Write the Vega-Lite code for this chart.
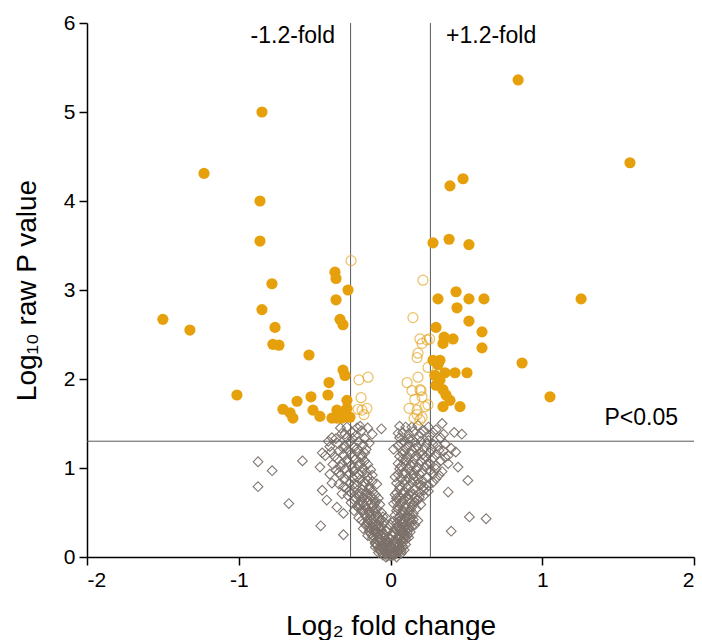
{
  "$schema": "https://vega.github.io/schema/vega-lite/v6.json",
  "width": 607,
  "height": 534,
  "autosize": "none",
  "padding": {"left": 87, "top": 23, "right": 8, "bottom": 83},
  "background": "white",
  "config": {
    "view": {"stroke": null},
    "axis": {
      "grid": false,
      "domainColor": "#000000",
      "domainWidth": 1.5,
      "tickColor": "#000000",
      "tickWidth": 1.5,
      "tickSize": 8,
      "labelFont": "Liberation Sans",
      "labelFontSize": 21,
      "labelColor": "#000000",
      "labelPadding": 4,
      "titleFont": "Liberation Sans",
      "titleFontSize": 28,
      "titleFontWeight": "normal",
      "titleColor": "#000000"
    }
  },
  "data": {
    "values": [
      {"x": -0.873, "y": 1.07, "g": "n"}, {"x": -0.78, "y": 0.97, "g": "n"}, {"x": -0.873, "y": 0.79, "g": "n"}, {"x": -0.58, "y": 1.08, "g": "n"},
      {"x": -0.67, "y": 0.6, "g": "n"}, {"x": -0.46, "y": 0.35, "g": "n"}, {"x": -0.31, "y": 0.25, "g": "n"}, {"x": -0.06, "y": 1.44, "g": "n"},
      {"x": 0.47, "y": 1.38, "g": "n"}, {"x": 0.51, "y": 0.86, "g": "n"}, {"x": 0.52, "y": 0.45, "g": "n"}, {"x": 0.63, "y": 0.43, "g": "n"},
      {"x": 0.40, "y": 0.29, "g": "n"}, {"x": 0.38, "y": 0.73, "g": "n"}, {"x": 0.445, "y": 1.01, "g": "n"}, {"x": -0.45, "y": 1.17, "g": "n"},
      {"x": -0.465, "y": 1.01, "g": "n"}, {"x": -0.45, "y": 0.75, "g": "n"}, {"x": -0.42, "y": 0.64, "g": "n"}, {"x": -0.386, "y": 0.83, "g": "n"},
      {"x": -0.353, "y": 0.56, "g": "n"}, {"x": -0.31, "y": 0.49, "g": "n"}, {"x": -0.386, "y": 1.34, "g": "n"}, {"x": -0.2, "y": 1.47, "g": "n"},
      {"x": -0.05, "y": 0.02, "g": "n"}, {"x": 0.0, "y": 0.01, "g": "n"}, {"x": 0.03, "y": 0.03, "g": "n"}, {"x": -0.02, "y": 0.05, "g": "n"},
      {"x": 0.05, "y": 0.06, "g": "n"}, {"x": -0.07, "y": 0.08, "g": "n"}, {"x": 0.01, "y": 0.09, "g": "n"}, {"x": 0.06, "y": 0.1, "g": "n"},
      {"x": -0.04, "y": 0.11, "g": "n"}, {"x": 0.08, "y": 0.12, "g": "n"}, {"x": -0.09, "y": 0.13, "g": "n"}, {"x": 0.02, "y": 0.14, "g": "n"},
      {"x": -0.01, "y": 0.03, "g": "n"}, {"x": 0.04, "y": 0.0, "g": "n"}, {"x": -0.03, "y": 0.0, "g": "n"}, {"x": 0.07, "y": 0.04, "g": "n"},
      {"x": -0.06, "y": 0.05, "g": "n"}, {"x": 0.0, "y": 0.07, "g": "n"}, {"x": -0.08, "y": 0.1, "g": "n"}, {"x": 0.09, "y": 0.08, "g": "n"},
      {"x": 0.03, "y": 0.12, "g": "n"}, {"x": -0.05, "y": 0.14, "g": "n"}, {"x": 0.05, "y": 0.15, "g": "n"}, {"x": -0.02, "y": 0.12, "g": "n"},
      {"x": 0.01, "y": 0.05, "g": "n"},
      {"x": -0.1, "y": 0.16, "g": "n"}, {"x": -0.06, "y": 0.18, "g": "n"}, {"x": -0.02, "y": 0.17, "g": "n"}, {"x": 0.03, "y": 0.19, "g": "n"},
      {"x": 0.07, "y": 0.18, "g": "n"}, {"x": 0.1, "y": 0.2, "g": "n"}, {"x": -0.12, "y": 0.21, "g": "n"}, {"x": -0.08, "y": 0.23, "g": "n"},
      {"x": -0.04, "y": 0.22, "g": "n"}, {"x": 0.01, "y": 0.24, "g": "n"}, {"x": 0.05, "y": 0.23, "g": "n"}, {"x": 0.09, "y": 0.25, "g": "n"},
      {"x": -0.13, "y": 0.26, "g": "n"}, {"x": -0.09, "y": 0.28, "g": "n"}, {"x": -0.05, "y": 0.27, "g": "n"}, {"x": 0.02, "y": 0.28, "g": "n"},
      {"x": 0.06, "y": 0.29, "g": "n"}, {"x": 0.11, "y": 0.27, "g": "n"}, {"x": -0.11, "y": 0.3, "g": "n"}, {"x": -0.07, "y": 0.19, "g": "n"},
      {"x": 0.12, "y": 0.22, "g": "n"}, {"x": 0.0, "y": 0.2, "g": "n"}, {"x": -0.03, "y": 0.29, "g": "n"}, {"x": 0.08, "y": 0.3, "g": "n"},
      {"x": -0.15, "y": 0.24, "g": "n"},
      {"x": -0.04, "y": 0.16, "g": "n"}, {"x": 0.04, "y": 0.17, "g": "n"}, {"x": -0.01, "y": 0.21, "g": "n"}, {"x": 0.06, "y": 0.21, "g": "n"},
      {"x": -0.06, "y": 0.25, "g": "n"}, {"x": 0.03, "y": 0.26, "g": "n"}, {"x": -0.1, "y": 0.27, "g": "n"}, {"x": 0.1, "y": 0.3, "g": "n"},
      {"x": -0.02, "y": 0.32, "g": "n"}, {"x": 0.0, "y": 0.36, "g": "n"}, {"x": -0.08, "y": 0.33, "g": "n"}, {"x": 0.05, "y": 0.35, "g": "n"},
      {"x": 0.1, "y": 0.36, "g": "n"}, {"x": -0.13, "y": 0.4, "g": "n"}, {"x": 0.02, "y": 0.4, "g": "n"}, {"x": 0.14, "y": 0.39, "g": "n"},
      {"x": -0.03, "y": 0.44, "g": "n"},
      {"x": -0.18, "y": 0.32, "g": "n"}, {"x": -0.14, "y": 0.33, "g": "n"}, {"x": -0.1, "y": 0.31, "g": "n"}, {"x": -0.06, "y": 0.34, "g": "n"},
      {"x": -0.16, "y": 0.37, "g": "n"}, {"x": -0.12, "y": 0.38, "g": "n"}, {"x": -0.08, "y": 0.36, "g": "n"}, {"x": -0.04, "y": 0.39, "g": "n"},
      {"x": -0.19, "y": 0.41, "g": "n"}, {"x": -0.15, "y": 0.42, "g": "n"}, {"x": -0.11, "y": 0.43, "g": "n"}, {"x": -0.07, "y": 0.41, "g": "n"},
      {"x": -0.13, "y": 0.46, "g": "n"}, {"x": -0.09, "y": 0.47, "g": "n"}, {"x": -0.17, "y": 0.48, "g": "n"}, {"x": -0.05, "y": 0.45, "g": "n"},
      {"x": -0.21, "y": 0.44, "g": "n"}, {"x": -0.1, "y": 0.5, "g": "n"},
      {"x": 0.03, "y": 0.32, "g": "n"}, {"x": 0.07, "y": 0.33, "g": "n"}, {"x": 0.11, "y": 0.31, "g": "n"}, {"x": 0.14, "y": 0.34, "g": "n"},
      {"x": 0.04, "y": 0.38, "g": "n"}, {"x": 0.08, "y": 0.37, "g": "n"}, {"x": 0.12, "y": 0.39, "g": "n"}, {"x": 0.16, "y": 0.36, "g": "n"},
      {"x": 0.05, "y": 0.43, "g": "n"}, {"x": 0.09, "y": 0.42, "g": "n"}, {"x": 0.13, "y": 0.44, "g": "n"}, {"x": 0.03, "y": 0.47, "g": "n"},
      {"x": 0.07, "y": 0.48, "g": "n"}, {"x": 0.11, "y": 0.46, "g": "n"}, {"x": 0.15, "y": 0.49, "g": "n"}, {"x": 0.18, "y": 0.41, "g": "n"},
      {"x": -0.24, "y": 0.52, "g": "n"}, {"x": -0.19, "y": 0.53, "g": "n"}, {"x": -0.14, "y": 0.51, "g": "n"}, {"x": -0.09, "y": 0.54, "g": "n"},
      {"x": -0.22, "y": 0.57, "g": "n"}, {"x": -0.17, "y": 0.58, "g": "n"}, {"x": -0.12, "y": 0.56, "g": "n"}, {"x": -0.07, "y": 0.59, "g": "n"},
      {"x": -0.26, "y": 0.61, "g": "n"}, {"x": -0.2, "y": 0.62, "g": "n"}, {"x": -0.15, "y": 0.63, "g": "n"}, {"x": -0.1, "y": 0.61, "g": "n"},
      {"x": -0.23, "y": 0.66, "g": "n"}, {"x": -0.18, "y": 0.67, "g": "n"}, {"x": -0.13, "y": 0.68, "g": "n"}, {"x": -0.08, "y": 0.66, "g": "n"},
      {"x": -0.28, "y": 0.69, "g": "n"},
      {"x": 0.04, "y": 0.52, "g": "n"}, {"x": 0.08, "y": 0.53, "g": "n"}, {"x": 0.12, "y": 0.51, "g": "n"}, {"x": 0.17, "y": 0.54, "g": "n"},
      {"x": 0.05, "y": 0.57, "g": "n"}, {"x": 0.1, "y": 0.58, "g": "n"}, {"x": 0.14, "y": 0.56, "g": "n"}, {"x": 0.2, "y": 0.59, "g": "n"},
      {"x": 0.04, "y": 0.62, "g": "n"}, {"x": 0.08, "y": 0.63, "g": "n"}, {"x": 0.13, "y": 0.61, "g": "n"}, {"x": 0.18, "y": 0.64, "g": "n"},
      {"x": 0.06, "y": 0.67, "g": "n"}, {"x": 0.11, "y": 0.68, "g": "n"}, {"x": 0.16, "y": 0.66, "g": "n"}, {"x": 0.22, "y": 0.69, "g": "n"},
      {"x": 0.03, "y": 0.7, "g": "n"},
      {"x": -0.32, "y": 0.71, "g": "n"}, {"x": -0.26, "y": 0.72, "g": "n"}, {"x": -0.21, "y": 0.71, "g": "n"}, {"x": -0.16, "y": 0.73, "g": "n"},
      {"x": -0.12, "y": 0.74, "g": "n"}, {"x": -0.29, "y": 0.77, "g": "n"}, {"x": -0.24, "y": 0.78, "g": "n"}, {"x": -0.19, "y": 0.76, "g": "n"},
      {"x": -0.14, "y": 0.79, "g": "n"}, {"x": -0.34, "y": 0.82, "g": "n"}, {"x": -0.27, "y": 0.83, "g": "n"}, {"x": -0.22, "y": 0.81, "g": "n"},
      {"x": -0.17, "y": 0.84, "g": "n"}, {"x": -0.12, "y": 0.85, "g": "n"}, {"x": -0.3, "y": 0.88, "g": "n"}, {"x": -0.25, "y": 0.89, "g": "n"},
      {"x": -0.2, "y": 0.87, "g": "n"}, {"x": -0.15, "y": 0.9, "g": "n"},
      {"x": 0.04, "y": 0.72, "g": "n"}, {"x": 0.08, "y": 0.71, "g": "n"}, {"x": 0.13, "y": 0.73, "g": "n"}, {"x": 0.19, "y": 0.72, "g": "n"},
      {"x": 0.25, "y": 0.74, "g": "n"}, {"x": 0.06, "y": 0.77, "g": "n"}, {"x": 0.11, "y": 0.78, "g": "n"}, {"x": 0.16, "y": 0.76, "g": "n"},
      {"x": 0.22, "y": 0.79, "g": "n"}, {"x": 0.04, "y": 0.83, "g": "n"}, {"x": 0.09, "y": 0.82, "g": "n"}, {"x": 0.14, "y": 0.84, "g": "n"},
      {"x": 0.2, "y": 0.81, "g": "n"}, {"x": 0.28, "y": 0.84, "g": "n"}, {"x": 0.07, "y": 0.88, "g": "n"}, {"x": 0.12, "y": 0.89, "g": "n"},
      {"x": 0.18, "y": 0.87, "g": "n"}, {"x": 0.24, "y": 0.9, "g": "n"},
      {"x": -0.4, "y": 0.93, "g": "n"}, {"x": -0.33, "y": 0.92, "g": "n"}, {"x": -0.27, "y": 0.94, "g": "n"}, {"x": -0.21, "y": 0.93, "g": "n"},
      {"x": -0.16, "y": 0.95, "g": "n"}, {"x": -0.36, "y": 0.98, "g": "n"}, {"x": -0.3, "y": 0.99, "g": "n"}, {"x": -0.24, "y": 0.97, "g": "n"},
      {"x": -0.18, "y": 1.0, "g": "n"}, {"x": -0.13, "y": 0.98, "g": "n"}, {"x": -0.38, "y": 1.04, "g": "n"}, {"x": -0.32, "y": 1.05, "g": "n"},
      {"x": -0.26, "y": 1.03, "g": "n"}, {"x": -0.2, "y": 1.06, "g": "n"}, {"x": -0.15, "y": 1.04, "g": "n"}, {"x": -0.29, "y": 1.09, "g": "n"},
      {"x": -0.23, "y": 1.1, "g": "n"}, {"x": -0.17, "y": 1.08, "g": "n"},
      {"x": 0.05, "y": 0.93, "g": "n"}, {"x": 0.1, "y": 0.94, "g": "n"}, {"x": 0.15, "y": 0.92, "g": "n"}, {"x": 0.21, "y": 0.95, "g": "n"},
      {"x": 0.28, "y": 0.93, "g": "n"}, {"x": 0.34, "y": 0.96, "g": "n"}, {"x": 0.06, "y": 0.99, "g": "n"}, {"x": 0.12, "y": 1.0, "g": "n"},
      {"x": 0.17, "y": 0.98, "g": "n"}, {"x": 0.23, "y": 1.01, "g": "n"}, {"x": 0.3, "y": 0.99, "g": "n"}, {"x": 0.05, "y": 1.05, "g": "n"},
      {"x": 0.1, "y": 1.06, "g": "n"}, {"x": 0.15, "y": 1.04, "g": "n"}, {"x": 0.2, "y": 1.07, "g": "n"}, {"x": 0.26, "y": 1.05, "g": "n"},
      {"x": 0.33, "y": 1.08, "g": "n"}, {"x": 0.08, "y": 1.1, "g": "n"},
      {"x": -0.43, "y": 1.14, "g": "n"}, {"x": -0.37, "y": 1.13, "g": "n"}, {"x": -0.31, "y": 1.15, "g": "n"}, {"x": -0.25, "y": 1.12, "g": "n"},
      {"x": -0.19, "y": 1.14, "g": "n"}, {"x": -0.34, "y": 1.19, "g": "n"}, {"x": -0.28, "y": 1.2, "g": "n"}, {"x": -0.22, "y": 1.18, "g": "n"},
      {"x": -0.16, "y": 1.21, "g": "n"}, {"x": -0.4, "y": 1.24, "g": "n"}, {"x": -0.3, "y": 1.25, "g": "n"}, {"x": -0.24, "y": 1.23, "g": "n"},
      {"x": -0.18, "y": 1.26, "g": "n"}, {"x": -0.27, "y": 1.29, "g": "n"}, {"x": -0.21, "y": 1.3, "g": "n"},
      {"x": 0.06, "y": 1.13, "g": "n"}, {"x": 0.11, "y": 1.12, "g": "n"}, {"x": 0.17, "y": 1.14, "g": "n"}, {"x": 0.23, "y": 1.13, "g": "n"},
      {"x": 0.3, "y": 1.15, "g": "n"}, {"x": 0.38, "y": 1.14, "g": "n"}, {"x": 0.08, "y": 1.19, "g": "n"}, {"x": 0.14, "y": 1.2, "g": "n"},
      {"x": 0.2, "y": 1.18, "g": "n"}, {"x": 0.27, "y": 1.21, "g": "n"}, {"x": 0.35, "y": 1.19, "g": "n"}, {"x": 0.05, "y": 1.25, "g": "n"},
      {"x": 0.12, "y": 1.26, "g": "n"}, {"x": 0.18, "y": 1.24, "g": "n"}, {"x": 0.24, "y": 1.27, "g": "n"}, {"x": 0.31, "y": 1.25, "g": "n"},
      {"x": 0.09, "y": 1.3, "g": "n"}, {"x": 0.16, "y": 1.29, "g": "n"},
      {"x": -0.36, "y": 1.33, "g": "n"}, {"x": -0.29, "y": 1.34, "g": "n"}, {"x": -0.23, "y": 1.36, "g": "n"}, {"x": -0.17, "y": 1.33, "g": "n"},
      {"x": -0.32, "y": 1.39, "g": "n"}, {"x": -0.25, "y": 1.4, "g": "n"}, {"x": -0.19, "y": 1.42, "g": "n"}, {"x": -0.287, "y": 1.46, "g": "n"},
      {"x": -0.12, "y": 1.38, "g": "n"},
      {"x": 0.06, "y": 1.34, "g": "n"}, {"x": 0.12, "y": 1.33, "g": "n"}, {"x": 0.19, "y": 1.35, "g": "n"}, {"x": 0.26, "y": 1.36, "g": "n"},
      {"x": 0.33, "y": 1.34, "g": "n"}, {"x": 0.08, "y": 1.4, "g": "n"}, {"x": 0.15, "y": 1.41, "g": "n"}, {"x": 0.22, "y": 1.42, "g": "n"},
      {"x": 0.1, "y": 1.46, "g": "n"}, {"x": 0.18, "y": 1.48, "g": "n"}, {"x": 0.42, "y": 1.4, "g": "n"}, {"x": 0.3, "y": 1.43, "g": "n"},
      {"x": -0.03, "y": 0.04, "g": "n"}, {"x": 0.02, "y": 0.02, "g": "n"}, {"x": 0.06, "y": 0.08, "g": "n"}, {"x": -0.06, "y": 0.1, "g": "n"},
      {"x": 0.0, "y": 0.13, "g": "n"}, {"x": 0.04, "y": 0.1, "g": "n"}, {"x": -0.1, "y": 0.15, "g": "n"}, {"x": 0.08, "y": 0.16, "g": "n"},
      {"x": -0.03, "y": 0.19, "g": "n"}, {"x": 0.05, "y": 0.2, "g": "n"}, {"x": -0.08, "y": 0.26, "g": "n"}, {"x": 0.08, "y": 0.27, "g": "n"},
      {"x": -0.12, "y": 0.34, "g": "n"}, {"x": 0.12, "y": 0.33, "g": "n"}, {"x": -0.15, "y": 0.39, "g": "n"}, {"x": 0.06, "y": 0.4, "g": "n"},
      {"x": -0.06, "y": 0.42, "g": "n"}, {"x": 0.1, "y": 0.44, "g": "n"}, {"x": -0.16, "y": 0.45, "g": "n"}, {"x": 0.13, "y": 0.47, "g": "n"},
      {"x": -0.01, "y": 0.08, "g": "n"}, {"x": 0.03, "y": 0.07, "g": "n"}, {"x": -0.07, "y": 0.2, "g": "n"}, {"x": 0.09, "y": 0.22, "g": "n"},
      {"x": -0.11, "y": 0.36, "g": "n"}, {"x": 0.08, "y": 0.39, "g": "n"},
      {"x": -0.11, "y": 0.52, "g": "n"}, {"x": -0.16, "y": 0.55, "g": "n"}, {"x": -0.21, "y": 0.55, "g": "n"}, {"x": -0.13, "y": 0.6, "g": "n"},
      {"x": -0.18, "y": 0.6, "g": "n"}, {"x": -0.24, "y": 0.64, "g": "n"}, {"x": -0.11, "y": 0.65, "g": "n"}, {"x": -0.16, "y": 0.7, "g": "n"},
      {"x": -0.21, "y": 0.68, "g": "n"}, {"x": -0.27, "y": 0.74, "g": "n"}, {"x": -0.14, "y": 0.76, "g": "n"}, {"x": -0.18, "y": 0.8, "g": "n"},
      {"x": -0.24, "y": 0.82, "g": "n"}, {"x": -0.31, "y": 0.79, "g": "n"}, {"x": -0.15, "y": 0.86, "g": "n"}, {"x": -0.22, "y": 0.9, "g": "n"},
      {"x": -0.28, "y": 0.92, "g": "n"}, {"x": -0.34, "y": 0.95, "g": "n"}, {"x": -0.19, "y": 0.96, "g": "n"}, {"x": -0.25, "y": 1.0, "g": "n"},
      {"x": -0.33, "y": 1.01, "g": "n"}, {"x": -0.21, "y": 1.02, "g": "n"}, {"x": -0.28, "y": 1.07, "g": "n"}, {"x": -0.35, "y": 1.1, "g": "n"},
      {"x": -0.19, "y": 1.12, "g": "n"}, {"x": -0.26, "y": 1.16, "g": "n"}, {"x": -0.31, "y": 1.22, "g": "n"}, {"x": -0.22, "y": 1.22, "g": "n"},
      {"x": -0.35, "y": 1.28, "g": "n"}, {"x": -0.25, "y": 1.33, "g": "n"}, {"x": -0.3, "y": 1.38, "g": "n"}, {"x": -0.22, "y": 1.45, "g": "n"},
      {"x": -0.17, "y": 1.17, "g": "n"}, {"x": -0.14, "y": 1.28, "g": "n"}, {"x": -0.39, "y": 1.18, "g": "n"}, {"x": -0.41, "y": 1.3, "g": "n"},
      {"x": -0.15, "y": 1.45, "g": "n"}, {"x": -0.33, "y": 1.45, "g": "n"}, {"x": -0.1, "y": 0.7, "g": "n"}, {"x": -0.12, "y": 0.92, "g": "n"},
      {"x": -0.09, "y": 0.82, "g": "n"},
      {"x": 0.05, "y": 0.54, "g": "n"}, {"x": 0.1, "y": 0.55, "g": "n"}, {"x": 0.15, "y": 0.6, "g": "n"}, {"x": 0.07, "y": 0.6, "g": "n"},
      {"x": 0.12, "y": 0.65, "g": "n"}, {"x": 0.19, "y": 0.67, "g": "n"}, {"x": 0.04, "y": 0.66, "g": "n"}, {"x": 0.09, "y": 0.74, "g": "n"},
      {"x": 0.15, "y": 0.71, "g": "n"}, {"x": 0.22, "y": 0.75, "g": "n"}, {"x": 0.06, "y": 0.8, "g": "n"}, {"x": 0.12, "y": 0.8, "g": "n"},
      {"x": 0.18, "y": 0.82, "g": "n"}, {"x": 0.25, "y": 0.8, "g": "n"}, {"x": 0.1, "y": 0.86, "g": "n"}, {"x": 0.15, "y": 0.88, "g": "n"},
      {"x": 0.21, "y": 0.86, "g": "n"}, {"x": 0.3, "y": 0.88, "g": "n"}, {"x": 0.08, "y": 0.94, "g": "n"}, {"x": 0.13, "y": 0.96, "g": "n"},
      {"x": 0.19, "y": 0.93, "g": "n"}, {"x": 0.26, "y": 0.97, "g": "n"}, {"x": 0.32, "y": 0.92, "g": "n"}, {"x": 0.07, "y": 1.02, "g": "n"},
      {"x": 0.13, "y": 1.03, "g": "n"}, {"x": 0.18, "y": 1.01, "g": "n"}, {"x": 0.24, "y": 1.04, "g": "n"}, {"x": 0.3, "y": 1.03, "g": "n"},
      {"x": 0.1, "y": 1.09, "g": "n"}, {"x": 0.16, "y": 1.1, "g": "n"}, {"x": 0.22, "y": 1.1, "g": "n"}, {"x": 0.28, "y": 1.11, "g": "n"},
      {"x": 0.36, "y": 1.12, "g": "n"}, {"x": 0.08, "y": 1.16, "g": "n"}, {"x": 0.14, "y": 1.16, "g": "n"}, {"x": 0.21, "y": 1.15, "g": "n"},
      {"x": 0.26, "y": 1.17, "g": "n"}, {"x": 0.32, "y": 1.2, "g": "n"}, {"x": 0.1, "y": 1.22, "g": "n"}, {"x": 0.16, "y": 1.22, "g": "n"},
      {"x": 0.22, "y": 1.22, "g": "n"}, {"x": 0.28, "y": 1.27, "g": "n"}, {"x": 0.36, "y": 1.27, "g": "n"}, {"x": 0.07, "y": 1.28, "g": "n"},
      {"x": 0.13, "y": 1.31, "g": "n"}, {"x": 0.2, "y": 1.3, "g": "n"}, {"x": 0.25, "y": 1.31, "g": "n"}, {"x": 0.05, "y": 1.39, "g": "n"},
      {"x": 0.12, "y": 1.38, "g": "n"}, {"x": 0.2, "y": 1.39, "g": "n"}, {"x": 0.28, "y": 1.4, "g": "n"}, {"x": 0.35, "y": 1.38, "g": "n"},
      {"x": 0.14, "y": 1.46, "g": "n"}, {"x": 0.25, "y": 1.46, "g": "n"}, {"x": 0.06, "y": 1.47, "g": "n"}, {"x": 0.4, "y": 1.22, "g": "n"},
      {"x": 0.38, "y": 1.05, "g": "n"}, {"x": 0.43, "y": 1.18, "g": "n"}, {"x": 0.34, "y": 1.5, "g": "n"}, {"x": 0.02, "y": 1.21, "g": "n"},
      {"x": 0.03, "y": 0.9, "g": "n"}, {"x": 0.02, "y": 0.6, "g": "n"},
      {"x": -0.02, "y": 0.01, "g": "n"}, {"x": 0.01, "y": 0.02, "g": "n"}, {"x": -0.04, "y": 0.07, "g": "n"}, {"x": 0.04, "y": 0.05, "g": "n"},
      {"x": -0.08, "y": 0.05, "g": "n"}, {"x": 0.07, "y": 0.07, "g": "n"}, {"x": 0.0, "y": 0.04, "g": "n"}, {"x": -0.05, "y": 0.09, "g": "n"},
      {"x": 0.05, "y": 0.12, "g": "n"}, {"x": -0.1, "y": 0.11, "g": "n"}, {"x": 0.1, "y": 0.14, "g": "n"}, {"x": -0.02, "y": 0.15, "g": "n"},
      {"x": 0.02, "y": 0.18, "g": "n"}, {"x": -0.09, "y": 0.19, "g": "n"}, {"x": 0.08, "y": 0.19, "g": "n"}, {"x": -0.12, "y": 0.24, "g": "n"},
      {"x": 0.11, "y": 0.24, "g": "n"}, {"x": -0.04, "y": 0.25, "g": "n"}, {"x": 0.04, "y": 0.3, "g": "n"}, {"x": -0.14, "y": 0.29, "g": "n"},
      {"x": 0.13, "y": 0.28, "g": "n"}, {"x": -0.06, "y": 0.3, "g": "n"}, {"x": -0.1, "y": 0.35, "g": "n"}, {"x": 0.07, "y": 0.42, "g": "n"},
      {"x": -0.16, "y": 0.35, "g": "n"}, {"x": 0.15, "y": 0.42, "g": "n"}, {"x": -0.08, "y": 0.45, "g": "n"}, {"x": 0.09, "y": 0.5, "g": "n"},
      {"x": -0.14, "y": 0.49, "g": "n"}, {"x": -0.18, "y": 0.52, "g": "n"}, {"x": 0.13, "y": 0.53, "g": "n"}, {"x": -0.06, "y": 0.5, "g": "n"},
      {"x": 0.06, "y": 0.46, "g": "n"}, {"x": -0.2, "y": 0.58, "g": "n"}, {"x": 0.16, "y": 0.62, "g": "n"}, {"x": -0.11, "y": 0.58, "g": "n"},
      {"x": 0.09, "y": 0.65, "g": "n"}, {"x": -0.15, "y": 0.67, "g": "n"}, {"x": 0.12, "y": 0.7, "g": "n"}, {"x": -0.19, "y": 0.72, "g": "n"},

      {"x": -0.26, "y": 3.33, "g": "o"}, {"x": 0.214, "y": 3.11, "g": "o"}, {"x": 0.148, "y": 2.69, "g": "o"}, {"x": 0.194, "y": 2.45, "g": "o"},
      {"x": 0.208, "y": 2.4, "g": "o"}, {"x": 0.258, "y": 2.45, "g": "o"}, {"x": 0.181, "y": 2.29, "g": "o"}, {"x": 0.175, "y": 2.24, "g": "o"},
      {"x": 0.247, "y": 2.13, "g": "o"}, {"x": -0.208, "y": 1.99, "g": "o"}, {"x": -0.148, "y": 2.02, "g": "o"}, {"x": -0.194, "y": 1.79, "g": "o"},
      {"x": -0.155, "y": 1.67, "g": "o"}, {"x": -0.188, "y": 1.65, "g": "o"}, {"x": -0.214, "y": 1.66, "g": "o"}, {"x": -0.175, "y": 1.6, "g": "o"},
      {"x": 0.109, "y": 1.96, "g": "o"}, {"x": 0.181, "y": 2.02, "g": "o"}, {"x": 0.201, "y": 1.87, "g": "o"}, {"x": 0.142, "y": 1.87, "g": "o"},
      {"x": 0.122, "y": 1.67, "g": "o"}, {"x": 0.175, "y": 1.65, "g": "o"}, {"x": 0.208, "y": 1.57, "g": "o"}, {"x": 0.194, "y": 1.88, "g": "o"},
      {"x": 0.208, "y": 1.8, "g": "o"}, {"x": 0.227, "y": 1.69, "g": "o"}, {"x": 0.241, "y": 2.44, "g": "o"}, {"x": 0.247, "y": 1.71, "g": "o"},
      {"x": 0.175, "y": 1.6, "g": "o"}, {"x": 0.155, "y": 1.56, "g": "o"}, {"x": 0.194, "y": 1.54, "g": "o"}, {"x": 0.16, "y": 1.77, "g": "o"},

      {"x": -0.847, "y": 5.0, "g": "s"}, {"x": -1.229, "y": 4.31, "g": "s"}, {"x": -0.86, "y": 4.0, "g": "s"}, {"x": -0.86, "y": 3.55, "g": "s"},
      {"x": -0.781, "y": 3.07, "g": "s"}, {"x": -0.847, "y": 2.78, "g": "s"}, {"x": -0.761, "y": 2.58, "g": "s"}, {"x": -0.775, "y": 2.39, "g": "s"},
      {"x": -0.735, "y": 2.38, "g": "s"}, {"x": -0.537, "y": 2.27, "g": "s"}, {"x": -1.5, "y": 2.67, "g": "s"}, {"x": -1.322, "y": 2.55, "g": "s"},
      {"x": -1.012, "y": 1.82, "g": "s"}, {"x": -0.366, "y": 3.2, "g": "s"}, {"x": -0.359, "y": 3.13, "g": "s"}, {"x": -0.28, "y": 3.0, "g": "s"},
      {"x": -0.359, "y": 2.89, "g": "s"}, {"x": -0.333, "y": 2.67, "g": "s"}, {"x": -0.313, "y": 2.61, "g": "s"}, {"x": -0.313, "y": 2.1, "g": "s"},
      {"x": -0.3, "y": 2.04, "g": "s"}, {"x": -0.405, "y": 1.96, "g": "s"}, {"x": -0.412, "y": 1.82, "g": "s"}, {"x": -0.524, "y": 1.8, "g": "s"},
      {"x": -0.616, "y": 1.75, "g": "s"}, {"x": -0.709, "y": 1.66, "g": "s"}, {"x": -0.662, "y": 1.62, "g": "s"}, {"x": -0.643, "y": 1.56, "g": "s"},
      {"x": -0.511, "y": 1.65, "g": "s"}, {"x": -0.465, "y": 1.58, "g": "s"}, {"x": -0.386, "y": 1.56, "g": "s"}, {"x": -0.353, "y": 1.56, "g": "s"},
      {"x": -0.32, "y": 1.56, "g": "s"}, {"x": -0.287, "y": 1.76, "g": "s"}, {"x": -0.287, "y": 1.67, "g": "s"}, {"x": -0.267, "y": 1.57, "g": "s"},
      {"x": -0.353, "y": 1.65, "g": "s"}, {"x": -0.313, "y": 1.63, "g": "s"},
      {"x": 0.841, "y": 5.36, "g": "s"}, {"x": 1.578, "y": 4.43, "g": "s"}, {"x": 0.392, "y": 4.17, "g": "s"}, {"x": 0.478, "y": 4.25, "g": "s"},
      {"x": 0.28, "y": 3.53, "g": "s"}, {"x": 0.386, "y": 3.57, "g": "s"}, {"x": 0.517, "y": 3.51, "g": "s"}, {"x": 0.313, "y": 2.9, "g": "s"},
      {"x": 0.432, "y": 2.98, "g": "s"}, {"x": 0.517, "y": 2.9, "g": "s"}, {"x": 0.616, "y": 2.9, "g": "s"}, {"x": 0.438, "y": 2.8, "g": "s"},
      {"x": 0.517, "y": 2.65, "g": "s"}, {"x": 1.256, "y": 2.9, "g": "s"}, {"x": 0.3, "y": 2.58, "g": "s"}, {"x": 0.603, "y": 2.53, "g": "s"},
      {"x": 0.353, "y": 2.47, "g": "s"}, {"x": 0.412, "y": 2.45, "g": "s"}, {"x": 0.346, "y": 2.4, "g": "s"}, {"x": 0.603, "y": 2.35, "g": "s"},
      {"x": 0.867, "y": 2.18, "g": "s"}, {"x": 0.326, "y": 2.21, "g": "s"}, {"x": 0.313, "y": 2.16, "g": "s"}, {"x": 0.359, "y": 2.07, "g": "s"},
      {"x": 0.425, "y": 2.07, "g": "s"}, {"x": 0.504, "y": 2.07, "g": "s"}, {"x": 0.293, "y": 2.04, "g": "s"}, {"x": 0.326, "y": 1.99, "g": "s"},
      {"x": 0.346, "y": 1.88, "g": "s"}, {"x": 0.366, "y": 1.82, "g": "s"}, {"x": 0.392, "y": 1.76, "g": "s"}, {"x": 0.458, "y": 1.69, "g": "s"},
      {"x": 0.346, "y": 1.69, "g": "s"}, {"x": 1.051, "y": 1.8, "g": "s"}, {"x": 0.3, "y": 1.93, "g": "s"}, {"x": 0.28, "y": 2.21, "g": "s"}
    ]
  },
  "layer": [
    {
      "transform": [{"filter": "datum.g === 'n'"}],
      "mark": {"type": "point", "shape": "diamond", "filled": false, "size": 95, "stroke": "#7c716a", "strokeWidth": 1.1, "opacity": 0.95},
      "encoding": {
        "x": {"field": "x", "type": "quantitative", "scale": {"domain": [-2, 2], "nice": false, "zero": false}, "axis": {"values": [-2, -1, 0, 1, 2], "labelExpr": "'' + datum.value", "titlePadding": 22}, "title": "Log₂ fold change"},
        "y": {"field": "y", "type": "quantitative", "scale": {"domain": [0, 6], "nice": false}, "axis": {"values": [0, 1, 2, 3, 4, 5, 6], "labelExpr": "'' + datum.value", "titlePadding": 22}, "title": "Log₁₀ raw P value"}
      }
    },
    {
      "data": {"values": [{"x": -0.263}, {"x": 0.263}]},
      "mark": {"type": "rule", "color": "#5a5a5a", "strokeWidth": 1},
      "encoding": {"x": {"field": "x", "type": "quantitative", "title": "Log₂ fold change"}}
    },
    {
      "data": {"values": [{"y": 1.301}]},
      "mark": {"type": "rule", "color": "#5a5a5a", "strokeWidth": 1},
      "encoding": {"y": {"field": "y", "type": "quantitative", "title": "Log₁₀ raw P value"}}
    },
    {
      "transform": [{"filter": "datum.g === 'o'"}],
      "mark": {"type": "point", "shape": "circle", "filled": false, "size": 100, "stroke": "#e3a624", "strokeWidth": 1.2},
      "encoding": {
        "x": {"field": "x", "type": "quantitative", "title": "Log₂ fold change"},
        "y": {"field": "y", "type": "quantitative", "title": "Log₁₀ raw P value"}
      }
    },
    {
      "transform": [{"filter": "datum.g === 's'"}],
      "mark": {"type": "point", "shape": "circle", "filled": true, "size": 125, "fill": "#e6a00c", "opacity": 1, "strokeWidth": 0},
      "encoding": {
        "x": {"field": "x", "type": "quantitative", "title": "Log₂ fold change"},
        "y": {"field": "y", "type": "quantitative", "title": "Log₁₀ raw P value"}
      }
    },
    {
      "data": {"values": [{"x": -0.366, "y": 5.775, "t": "-1.2-fold"}, {"x": 1.895, "y": 1.483, "t": "P<0.05"}]},
      "mark": {"type": "text", "align": "right", "baseline": "alphabetic", "font": "Liberation Sans", "fontSize": 23, "color": "#000000"},
      "encoding": {
        "x": {"field": "x", "type": "quantitative", "title": "Log₂ fold change"},
        "y": {"field": "y", "type": "quantitative", "title": "Log₁₀ raw P value"},
        "text": {"field": "t"}
      }
    },
    {
      "data": {"values": [{"x": 0.366, "y": 5.775, "t": "+1.2-fold"}]},
      "mark": {"type": "text", "align": "left", "baseline": "alphabetic", "font": "Liberation Sans", "fontSize": 23, "color": "#000000"},
      "encoding": {
        "x": {"field": "x", "type": "quantitative", "title": "Log₂ fold change"},
        "y": {"field": "y", "type": "quantitative", "title": "Log₁₀ raw P value"},
        "text": {"field": "t"}
      }
    }
  ]
}
